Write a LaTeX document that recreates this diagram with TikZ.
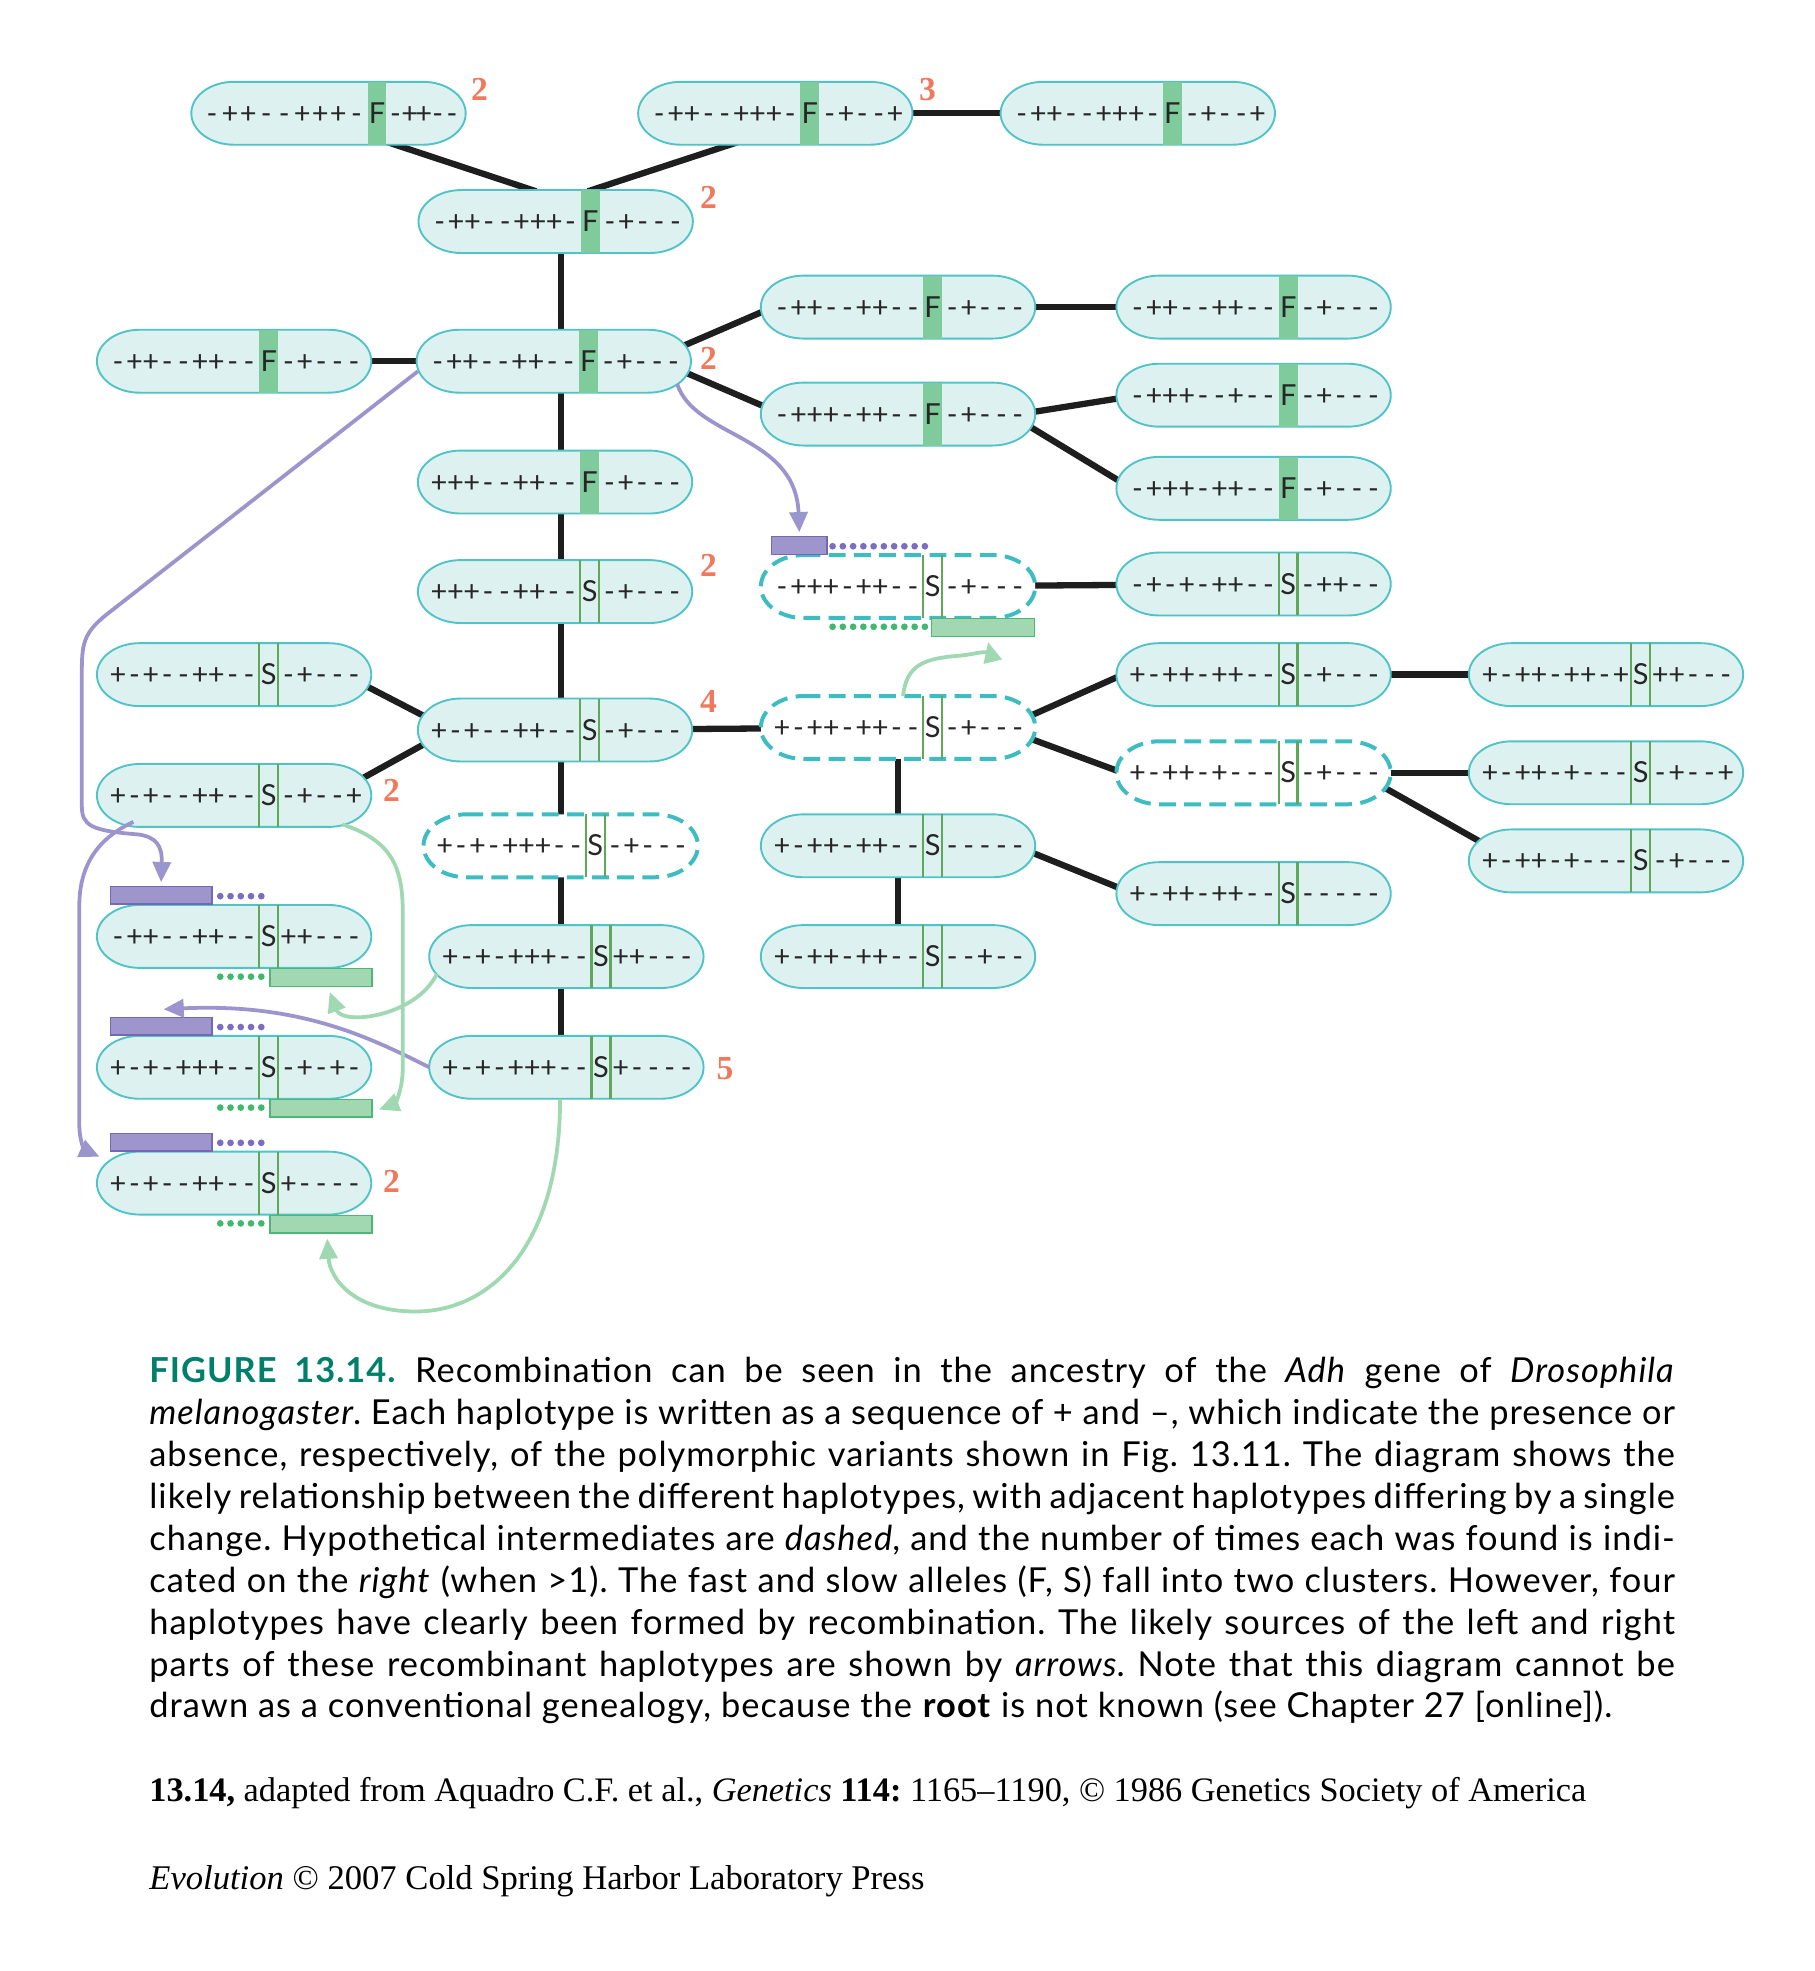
\documentclass[tikz,border=0pt]{standalone}
\usepackage{fontspec}
\setmainfont{Liberation Serif}
\newfontfamily\latofont{Lato}
\newfontfamily\capfont[LetterSpace=3]{Lato}
\usetikzlibrary{calc,arrows.meta}
\pgfdeclarelayer{bg}
\pgfsetlayers{bg,main}
\definecolor{boxfill}{HTML}{DDF1F1}
\definecolor{boxline}{HTML}{4FC3C6}
\definecolor{dashline}{HTML}{3DBDC1}
\definecolor{fgreen}{HTML}{7FCB9B}
\definecolor{sgreen}{HTML}{5FA85A}
\definecolor{arrpurple}{HTML}{9C94CC}
\definecolor{barpurple}{HTML}{9D95CB}
\definecolor{barpurpleline}{HTML}{7467B3}
\definecolor{dotpurple}{HTML}{7B6DC0}
\definecolor{arrgreen}{HTML}{9FD8B1}
\definecolor{bargreen}{HTML}{A1D8B2}
\definecolor{bargreenline}{HTML}{4DB776}
\definecolor{dotgreen}{HTML}{40B86E}
\definecolor{countc}{HTML}{F0785C}
\definecolor{figgreen}{HTML}{00806B}
\definecolor{edgec}{HTML}{1E1E1E}
\newlength\cwL \newlength\cwR
\setlength\cwL{3.9pt}\setlength\cwR{3.9pt}
\makeatletter
\def\hcellsL#1{\hcell@L#1\relax}
\def\hcell@L#1{\ifx#1\relax\else\makebox[\cwL]{#1}\expandafter\hcell@L\fi}
\def\hcellsR#1{\hcell@R#1\relax}
\def\hcell@R#1{\ifx#1\relax\else\makebox[\cwR]{#1}\expandafter\hcell@R\fi}
\makeatother
\tikzset{
  hapnode/.style={minimum width=65.4pt,minimum height=15pt,inner sep=0pt,outer sep=0pt},
  hapsolid/.style={draw=boxline,fill=boxfill,line width=0.45pt},
  hapdashed/.style={draw=dashline,fill=white,line width=0.95pt,dash pattern=on 4pt off 2pt},
  haptext/.style={font=\latofont\fontsize{6.9}{7}\selectfont,inner sep=0pt,text=black!85},
  sline/.style={draw=sgreen,line width=0.55pt},
  edge/.style={draw=edgec,line width=1.5pt},
  parrow/.style={draw=arrpurple,line width=0.9pt,-{Triangle[length=4.8pt,width=4.3pt]}},
  garrow/.style={draw=arrgreen,line width=0.9pt,-{Triangle[length=4.8pt,width=4.3pt]}},
  pbar/.style={draw=barpurpleline,fill=barpurple,line width=0.35pt,inner sep=0pt,minimum height=4.2pt},
  gbar/.style={draw=bargreenline,fill=bargreen,line width=0.35pt,inner sep=0pt,minimum height=4.2pt},
  countlbl/.style={font=\bfseries\fontsize{8}{8}\selectfont,text=countc,inner sep=0pt}
}
% #1 bar offset, #2 name, #3 position, #4 left part, #5 letter, #6 right part, #7 style
\newcommand\haplo[7][20]{%
  \node[hapnode] (#2) at (#3) {};
  \path[#7] ($(#2.north west)+(34,0)$) -- ($(#2.north east)+(-34,0)$)
     arc[start angle=90,end angle=-90,x radius=10.2pt,y radius=7.5pt]
     -- ($(#2.south west)+(34,0)$)
     arc[start angle=270,end angle=90,x radius=10.2pt,y radius=7.5pt] -- cycle;
  \if F#5
    \fill[fgreen] ($(#2.north)+(#1,0)$) rectangle ($(#2.south)+(#1+15,0)$);
  \else
    \draw[sline] ($(#2.north)+(#1,0)$) -- ($(#2.south)+(#1,0)$)
                 ($(#2.north)+(#1+15,0)$) -- ($(#2.south)+(#1+15,0)$);
  \fi
  \node[haptext,anchor=base east] (#2-l) at ($(#2.center)+(#1-1,8)$) {\hcellsL{#4}};
  \node[haptext,anchor=base] (#2-c) at ($(#2.center)+(#1+7.5,8)$) {#5};
  \node[haptext,anchor=base west] (#2-r) at ($(#2.center)+(#1+16,8)$) {\hcellsR{#6}};
}
% #1 box, #2 purple start, #3 purple width, #4 last dot index, #5 dot start, #6 green start, #7 green width
\newcommand\recbars[7]{%
  \node[pbar,anchor=south west,minimum width=#3] (#1p) at ($(#1.north west)+(#2,0)$) {};
  \foreach \k in {0,...,#4} \fill[dotpurple] ($(#1.north west)+(#5+8.15*\k,-7)$) circle[radius=0.8pt];
  \node[gbar,anchor=north west,minimum width=#7] (#1g) at ($(#1.south west)+(#6,0)$) {};
  \foreach \k in {0,...,#4} \fill[dotgreen] ($(#1.south west)+(#5+8.15*\k,7)$) circle[radius=0.8pt];
}
\begin{document}
\begin{tikzpicture}[x=0.3pt,y=-0.3pt]
\begin{pgfonlayer}{bg}
\fill[white] (0,0) rectangle (1442,1566);
\end{pgfonlayer}
\useasboundingbox (0,0) rectangle (1442,1566);
\coordinate (spine) at (446,0);

% F cluster
{\setlength\cwL{4.3pt}\setlength\cwR{3.36pt}%
 \haplo[31]{A1}{261,90}{-++--+++-}{F}{-++--}{hapsolid}}
\haplo{A2}{616,90}{-++--+++-}{F}{-+--+}{hapsolid}
\haplo{A3}{904,90}{-++--+++-}{F}{-+--+}{hapsolid}
\haplo{B}{441.5,176}{-++--+++-}{F}{-+---}{hapsolid}
\haplo{C1}{713.5,244}{-++--++--}{F}{-+---}{hapsolid}
\haplo{C2}{996,244}{-++--++--}{F}{-+---}{hapsolid}
\haplo{D0}{186,287}{-++--++--}{F}{-+---}{hapsolid}
\haplo{D}{440,287}{-++--++--}{F}{-+---}{hapsolid}
\haplo{E1}{713.5,329}{-+++-++--}{F}{-+---}{hapsolid}
\haplo{E2}{996,314}{-+++--+--}{F}{-+---}{hapsolid}
\haplo{E3}{996,388}{-+++-++--}{F}{-+---}{hapsolid}
\haplo{G}{441,383}{+++--++--}{F}{-+---}{hapsolid}
% S cluster
\haplo{H}{441,470}{+++--++--}{S}{-+---}{hapsolid}
\haplo{I}{713.5,466}{-+++-++--}{S}{-+---}{hapdashed}
\haplo{J}{996,464}{-+-+-++--}{S}{-++--}{hapsolid}
\haplo{K}{186,536}{+-+--++--}{S}{-+---}{hapsolid}
\haplo{L}{996,536}{+-++-++--}{S}{-+---}{hapsolid}
\haplo{M}{1276,536}{+-++-++-+}{S}{++---}{hapsolid}
\haplo{N}{441,580}{+-+--++--}{S}{-+---}{hapsolid}
\haplo{O}{713.5,578}{+-++-++--}{S}{-+---}{hapdashed}
\haplo{P}{996,614}{+-++-+---}{S}{-+---}{hapdashed}
\haplo{Q}{1276,614}{+-++-+---}{S}{-+--+}{hapsolid}
\haplo{R}{186,632}{+-+--++--}{S}{-+--+}{hapsolid}
\haplo{T}{445.5,672}{+-+-+++--}{S}{-+---}{hapdashed}
\haplo{U}{713.5,672}{+-++-++--}{S}{-----}{hapsolid}
\haplo{V}{1276,684}{+-++-+---}{S}{-+---}{hapsolid}
\haplo{W}{996,710}{+-++-++--}{S}{-----}{hapsolid}
\haplo{X}{186,744}{-++--++--}{S}{++---}{hapsolid}
\haplo{Y}{450,760}{+-+-+++--}{S}{++---}{hapsolid}
\haplo{Z}{713.5,760}{+-++-++--}{S}{--+--}{hapsolid}
\haplo{AA}{186,848}{+-+-+++--}{S}{-+-+-}{hapsolid}
\haplo{AB}{450,848}{+-+-+++--}{S}{+----}{hapsolid}
\haplo{AC}{186,940}{+-+--++--}{S}{+----}{hapsolid}

% recombinant source bars
\recbars{I}{8}{13.2pt}{9}{57}{135}{24.6pt}
\recbars{X}{10}{24.3pt}{4}{98}{137}{24.3pt}
\recbars{AA}{10}{24.3pt}{4}{98}{137}{24.3pt}
\recbars{AC}{10}{24.3pt}{4}{98}{137}{24.3pt}

% counts
\node[countlbl] (n1) at (381,71) {2};
\node[countlbl] (n2) at (737,71) {3};
\node[countlbl] (n3) at (563,157) {2};
\node[countlbl] (n4) at (563,285) {2};
\node[countlbl] (n5) at (563,449) {2};
\node[countlbl] (n6) at (563,557) {4};
\node[countlbl] (n7) at (311,628) {2};
\node[countlbl] (n8) at (576,849) {5};
\node[countlbl] (n9) at (311,939) {2};

% network edges
\begin{pgfonlayer}{bg}
\draw[edge] ($(A1)+(44,22)$) -- ($(B)+(-15.5,-24)$);
\draw[edge] ($(A2)+(-30,23)$) -- ($(B)+(25.5,-24)$);
\draw[edge] (A2) -- (A3);
\draw[edge] (B.center -| spine) -- (D.center -| spine);
\draw[edge] (D0) -- (D);
\draw[edge] ($(D)+(100,-11)$) -- ($(C1)+(-101.5,1)$);
\draw[edge] ($(D)+(100,7)$) -- ($(E1)+(-101.5,-4)$);
\draw[edge] (C1) -- (C2);
\draw[edge] ($(E1)+(103,-1)$) -- ($(E2)+(-104,2)$);
\draw[edge] ($(E1)+(101.5,8)$) -- ($(E3)+(-102,-3)$);
\draw[edge] (D.center -| spine) -- (G.center -| spine);
\draw[edge] (G.center -| spine) -- (H.center -| spine);
\draw[edge] (H.center -| spine) -- (N.center -| spine);
\draw[edge] (I) -- (J);
\draw[edge] ($(K)+(99,6)$) -- ($(N)+(-100,-9)$);
\draw[edge] ($(R)+(99,-12)$) -- ($(N)+(-100,9)$);
\draw[edge] (N) -- (O);
\draw[edge] ($(O)+(100,-7)$) -- ($(L)+(-104,0)$);
\draw[edge] ($(O)+(100,7)$) -- ($(P)+(-104,0)$);
\draw[edge] (L) -- (M);
\draw[edge] (P) -- (Q);
\draw[edge] ($(P)+(99,9)$) -- ($(V)+(-96,-13)$);
\draw[edge] (O) -- (U);
\draw[edge] ($(U)+(103,4)$) -- ($(W)+(-103,-3)$);
\draw[edge] (U) -- (Z);
\draw[edge] (N.center -| spine) -- (T.center -| spine);
\draw[edge] (T.center -| spine) -- (Y.center -| spine);
\draw[edge] (Y.center -| spine) -- (AB.center -| spine);
\end{pgfonlayer}

% recombination arrows
\draw[parrow] ($(D)+(-108,8)$) -- (85,488) .. controls (66,503) and (65,512) .. (65,535)
   -- (65,640) .. controls (65,656) and (72,660) .. (110,663)
   .. controls (124,665) and (129,672) .. ($(Xp.north west)+(41,-3)$);
\draw[parrow] (AB.west) .. controls (290,822) and (235,797) .. ($(AAp.north west)+(43,-6)$);
\draw[parrow] ($(R)+(-80,21)$) .. controls (80,665) and (63,685) .. (63,720)
   -- (63,893) .. controls (63,908) and (68,914) .. ($(AC.west)+(2,-21)$);
\draw[parrow] ($(D)+(98,18)$) .. controls (552,348) and (632,345) .. ($(Ip.north)+(0,-3)$);
\draw[garrow] ($(O.north)+(4,0)$) .. controls (720,528) and (735,523) .. (762,521)
   .. controls (782,519) and (786,514) .. ($(Ig.south)+(4,4)$);
\draw[garrow] ($(R)+(86,23)$) .. controls (312,668) and (320,690) .. (320,725)
   -- (320,848) .. controls (320,868) and (313,877) .. ($(AAg.east)+(5,1)$);
\draw[garrow] ($(Y)+(-103,14)$) .. controls (330,808) and (272,815) .. ($(Xg.south west)+(48,4)$);
\draw[garrow] ($(AB.south)+(-5,0)$) .. controls (445,990) and (390,1042) .. (330,1042)
   .. controls (280,1042) and (262,1015) .. ($(ACg.south west)+(46,4)$);

% caption
\node[anchor=north west,inner sep=0pt,text width=363.6pt,align=justify,
      font=\capfont\fontsize{8.2}{9.98}\selectfont] (caption) at (118,1078) {\frenchspacing
\textcolor{figgreen}{\textbf{FIGURE 13.14.}} Recombination can be seen in the ancestry of the \textit{Adh} gene of \textit{Drosophila}\linebreak
\textit{melanogaster}. Each haplotype is written as a sequence of + and –, which indicate the presence or\linebreak
absence, respectively, of the polymorphic variants shown in Fig. 13.11. The diagram shows the\linebreak
likely relationship between the different haplotypes, with adjacent haplotypes differing by a single\linebreak
change. Hypothetical intermediates are \textit{dashed}, and the number of times each was found is indi-\linebreak
cated on the \textit{right} (when >1). The fast and slow alleles (F, S) fall into two clusters. However, four\linebreak
haplotypes have clearly been formed by recombination. The likely sources of the left and right\linebreak
parts of these recombinant haplotypes are shown by \textit{arrows}. Note that this diagram cannot be\linebreak
drawn as a conventional genealogy, because the \textbf{root} is not known (see Chapter 27 [online]).};
\node[anchor=base west,inner sep=0pt,font=\fontsize{8.18}{10}\selectfont] (credit) at (118,1431)
  {\frenchspacing\textbf{13.14,} adapted from Aquadro C.F. et al., \textit{Genetics} \textbf{114:} 1165–1190, © 1986 Genetics Society of America};
\node[anchor=base west,inner sep=0pt,font=\fontsize{8.25}{10}\selectfont] (evo) at (118,1501)
  {\textit{Evolution} © 2007 Cold Spring Harbor Laboratory Press};
\end{tikzpicture}
\end{document}
